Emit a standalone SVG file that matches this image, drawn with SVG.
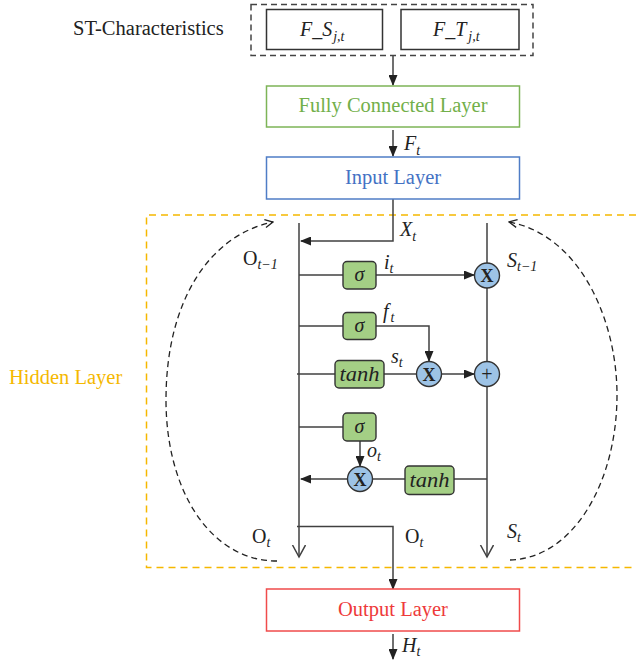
<svg xmlns="http://www.w3.org/2000/svg" width="636" height="663" viewBox="0 0 636 663">
<style>
.t{font-family:"Liberation Serif","Times New Roman",serif;fill:#222}
.i{font-style:italic}
.sub{font-size:14px;font-style:italic}
.ln{fill:none;stroke:#404040;stroke-width:1.5}
.dc{fill:none;stroke:#222;stroke-width:1.3;stroke-dasharray:6,4}
.gate{fill:#A4CF85;stroke:#333;stroke-width:1.4}
.op{fill:#9DC3E6;stroke:#333;stroke-width:1.4}
.box{fill:#fff;stroke-width:1.5}
</style>
<defs>
<marker id="ah" markerWidth="11" markerHeight="9" refX="10" refY="4.5" orient="auto" markerUnits="userSpaceOnUse"><path d="M0,0 L11,4.5 L0,9 z" fill="#222"/></marker>
<marker id="va" markerWidth="14" markerHeight="15" refX="12.5" refY="7" orient="auto" markerUnits="userSpaceOnUse"><path d="M0.5,0.5 L12.5,7 L0.5,13.5" fill="none" stroke="#404040" stroke-width="1.5"/></marker>
<marker id="da" markerWidth="10" markerHeight="10" refX="9" refY="5" orient="auto" markerUnits="userSpaceOnUse"><path d="M1,1 L9,5 L1,9" fill="none" stroke="#222" stroke-width="1.3"/></marker>
</defs>
<rect width="636" height="663" fill="#fff"/>

<g id="hidden-layer-frame">
<path d="M636 215 H146.5 V567.5 H636" fill="none" stroke="#F5B800" stroke-width="1.5" stroke-dasharray="7,5"/>
<text class="t" x="9" y="384" font-size="20.5" style="fill:#F5B800">Hidden Layer</text>
</g>

<g id="st-characteristics">
<text class="t" x="73" y="35" font-size="20.5">ST-Characteristics</text>
<rect x="251" y="4.5" width="282" height="51" fill="none" stroke="#444" stroke-width="1.5" stroke-dasharray="6,4"/>
</g>
<g id="fs">
<rect class="box" x="266.5" y="9.5" width="116" height="40" stroke="#333"/>
<text class="t" x="300" y="36" font-size="20"><tspan class="i">F_S</tspan><tspan class="sub" dx="1" dy="5">j,t</tspan></text>
</g>
<g id="ft">
<rect class="box" x="401" y="9.5" width="118" height="40" stroke="#333"/>
<text class="t" x="433" y="36" font-size="20"><tspan class="i">F_T</tspan><tspan class="sub" dx="2" dy="5">j,t</tspan></text>
</g>

<g id="connectors">
<path class="ln" d="M393 56 V85" marker-end="url(#ah)"/>
<path class="ln" d="M393 130 V156" marker-end="url(#ah)"/>
<path class="ln" d="M393 199 V241 H301" marker-end="url(#ah)"/>
<path class="ln" d="M299 223 V557" marker-end="url(#va)"/>
<path class="ln" d="M487 223 V557" marker-end="url(#va)"/>
<path class="ln" d="M299 275 H343"/>
<path class="ln" d="M376 275 H474" marker-end="url(#ah)"/>
<path class="ln" d="M299 326 H343"/>
<path class="ln" d="M376 326 H429 V361" marker-end="url(#ah)"/>
<path class="ln" d="M297 374 H335"/>
<path class="ln" d="M384 374 H417"/>
<path class="ln" d="M441.5 374 H474" marker-end="url(#ah)"/>
<path class="ln" d="M299 427 H343"/>
<path class="ln" d="M360 441 V466" marker-end="url(#ah)"/>
<path class="ln" d="M487 479 H454"/>
<path class="ln" d="M405 479 H372.5"/>
<path class="ln" d="M347.5 479 H301" marker-end="url(#ah)"/>
<path class="ln" d="M297 526.5 H393 V589" marker-end="url(#ah)"/>
<path class="ln" d="M393 634 V659" marker-end="url(#ah)"/>
<path class="dc" d="M277 561 C210 561 166 490 166 400 C166 300 210 235 273 222" marker-end="url(#da)"/>
<path class="dc" d="M510 560 C575 558 617 480 617 395 C617 320 580 235 509 222" marker-end="url(#da)"/>
</g>

<g id="fully-connected-layer">
<rect class="box" x="266.5" y="86" width="253" height="41" stroke="#7DB457"/>
<text class="t" x="393" y="112" font-size="20.5" text-anchor="middle" style="fill:#72AF4A">Fully Connected Layer</text>
</g>
<g id="input-layer">
<rect class="box" x="266.5" y="157" width="253" height="42" stroke="#4F7DC6"/>
<text class="t" x="393" y="184" font-size="20.5" text-anchor="middle" style="fill:#4472C4">Input Layer</text>
</g>
<g id="output-layer">
<rect class="box" x="266.5" y="589" width="253" height="42" stroke="#F04B4B"/>
<text class="t" x="393" y="616" font-size="20.5" text-anchor="middle" style="fill:#EE3A3A">Output Layer</text>
</g>

<g id="gate-i">
<rect class="gate" x="343" y="261.5" width="33" height="27.5" rx="4"/>
<text class="t i" x="359.5" y="281" font-size="20" text-anchor="middle">σ</text>
</g>
<g id="gate-f">
<rect class="gate" x="343" y="312.5" width="33" height="27" rx="4"/>
<text class="t i" x="359.5" y="332" font-size="20" text-anchor="middle">σ</text>
</g>
<g id="gate-tanh-s">
<rect class="gate" x="335" y="360.5" width="49" height="27.5" rx="4"/>
<text class="t i" x="359.5" y="381" font-size="20" text-anchor="middle" textLength="40" lengthAdjust="spacingAndGlyphs">tanh</text>
</g>
<g id="gate-o">
<rect class="gate" x="343" y="413" width="33" height="28" rx="4"/>
<text class="t i" x="359.5" y="433" font-size="20" text-anchor="middle">σ</text>
</g>
<g id="gate-tanh-o">
<rect class="gate" x="405" y="466" width="49" height="28.5" rx="4"/>
<text class="t i" x="429.5" y="487" font-size="20" text-anchor="middle" textLength="40" lengthAdjust="spacingAndGlyphs">tanh</text>
</g>

<g id="mul-i">
<circle class="op" cx="487" cy="275.5" r="12.5"/>
<text class="t" x="487" y="282" font-size="18" font-weight="bold" text-anchor="middle">X</text>
</g>
<g id="mul-f">
<circle class="op" cx="429" cy="374" r="12.5"/>
<text class="t" x="429" y="380.5" font-size="18" font-weight="bold" text-anchor="middle">X</text>
</g>
<g id="add">
<circle class="op" cx="487" cy="374" r="12.5"/>
<text class="t" x="487" y="380.5" font-size="20" text-anchor="middle">+</text>
</g>
<g id="mul-o">
<circle class="op" cx="360" cy="479" r="12.5"/>
<text class="t" x="360" y="485.5" font-size="18" font-weight="bold" text-anchor="middle">X</text>
</g>

<g id="labels">
<text class="t" x="404" y="150" font-size="20"><tspan class="i">F</tspan><tspan class="sub" dy="5">t</tspan></text>
<text class="t" x="400" y="236" font-size="20"><tspan class="i">X</tspan><tspan class="sub" dy="5">t</tspan></text>
<text class="t" x="243" y="265" font-size="20">O<tspan class="sub" dy="4">t−1</tspan></text>
<text class="t" x="507" y="267" font-size="20"><tspan class="i">S</tspan><tspan class="sub" dy="4">t−1</tspan></text>
<text class="t" x="384" y="269" font-size="20"><tspan class="i">i</tspan><tspan class="sub" dy="4">t</tspan></text>
<text class="t" x="383" y="318" font-size="20"><tspan class="i">f</tspan><tspan class="sub" dx="2" dy="4">t</tspan></text>
<text class="t" x="391" y="363" font-size="20"><tspan class="i">s</tspan><tspan class="sub" dy="4">t</tspan></text>
<text class="t" x="367" y="457" font-size="20"><tspan class="i">o</tspan><tspan class="sub" dy="4">t</tspan></text>
<text class="t" x="252" y="543" font-size="20">O<tspan class="sub" dy="4">t</tspan></text>
<text class="t" x="405" y="543" font-size="20">O<tspan class="sub" dy="4">t</tspan></text>
<text class="t" x="507" y="538" font-size="20"><tspan class="i">S</tspan><tspan class="sub" dy="4">t</tspan></text>
<text class="t" x="402" y="652" font-size="20"><tspan class="i">H</tspan><tspan class="sub" dy="4">t</tspan></text>
</g>
</svg>
